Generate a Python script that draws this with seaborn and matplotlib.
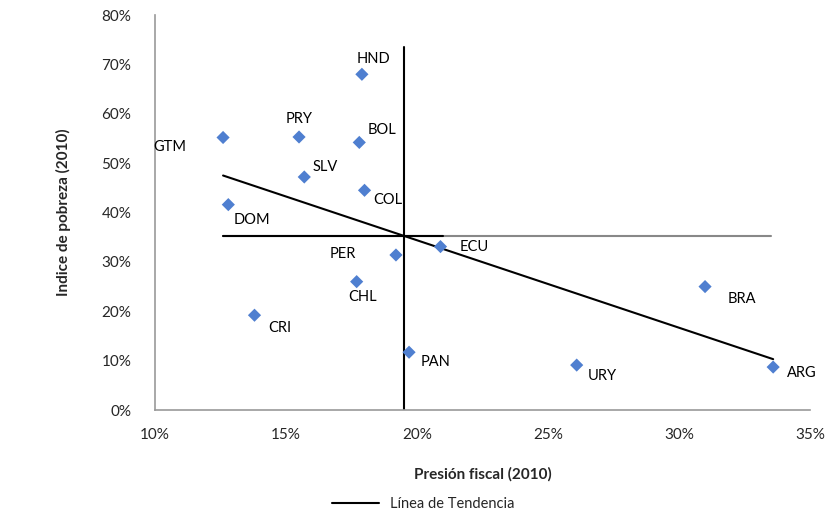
import numpy as np
import pandas as pd
import matplotlib
matplotlib.use("Agg")
import matplotlib.pyplot as plt
from matplotlib.lines import Line2D
from matplotlib.ticker import PercentFormatter
import seaborn as sns

# datos
paises = ["HND", "PRY", "BOL", "GTM", "SLV", "COL", "DOM", "ECU",
          "PER", "CHL", "CRI", "PAN", "URY", "BRA", "ARG"]
presion = [17.9, 15.5, 17.8, 12.6, 15.7, 18.0, 12.8, 20.9,
           19.2, 17.7, 13.8, 19.7, 26.1, 31.0, 33.6]
pobreza = [68.0, 55.3, 54.2, 55.2, 47.2, 44.5, 41.6, 33.1,
           31.4, 26.0, 19.2, 11.7, 9.1, 25.0, 8.7]

# línea de tendencia y cruces de medias
tend_x = [12.6, 33.6]
tend_y = [47.5, 10.3]
media_x = 19.5
media_y = 35.2

# desplazamiento de etiquetas (puntos)
offs = {"HND": (-4, 8), "PRY": (-10, 10), "BOL": (6, 6), "GTM": (-50, -10),
        "SLV": (6, 4), "COL": (6, -10), "DOM": (4, -14), "ECU": (14, -3),
        "PER": (-48, -2), "CHL": (-6, -14), "CRI": (10, -12), "PAN": (8, -10),
        "URY": (8, -11), "BRA": (16, -12), "ARG": (10, -7)}

df = pd.DataFrame({"pais": paises, "presion": presion, "pobreza": pobreza})

sns.set_style("white")
plt.rcParams["font.family"] = ["Lato", "DejaVu Sans"]

fig = plt.figure(figsize=(8.30, 5.19), dpi=100)
ax = fig.add_axes([0.1867, 0.210, 0.789, 0.761])

ax.plot([12.6, 33.5], [media_y, media_y], color="#888888", lw=1.5, zorder=1)
ax.plot([12.6, 21.0], [media_y, media_y], color="black", lw=1.5, zorder=2)
ax.plot([media_x, media_x], [0, 73.5], color="black", lw=1.5, zorder=2)
ax.plot(tend_x, tend_y, color="black", lw=1.5, zorder=3)

sns.scatterplot(data=df, x="presion", y="pobreza", marker="D", s=45,
                color="#4F7FD0", edgecolor="none", ax=ax, zorder=4,
                legend=False)

for p, xv, yv in zip(paises, presion, pobreza):
    ax.annotate(p, (xv, yv), xytext=offs[p], textcoords="offset points",
                fontsize=10.5, color="black")

ax.set_xlim(10, 35)
ax.set_ylim(0, 80)
ax.set_xticks(np.arange(10, 36, 5))
ax.set_yticks(np.arange(0, 81, 10))
ax.xaxis.set_major_formatter(PercentFormatter(decimals=0))
ax.yaxis.set_major_formatter(PercentFormatter(decimals=0))
ax.tick_params(axis="both", direction="out", length=5, width=1,
               color="#999999", labelsize=11, pad=8)
ax.tick_params(axis="y", pad=12)
for s in ["top", "right"]:
    ax.spines[s].set_visible(False)
for s in ["left", "bottom"]:
    ax.spines[s].set_color("#999999")
    ax.spines[s].set_linewidth(1.2)

ax.set_xlabel("Presión fiscal (2010)", fontsize=11, fontweight="bold",
              labelpad=18)
ax.set_ylabel("Indice de pobreza (2010)", fontsize=11, fontweight="bold",
              labelpad=22)

handle = [Line2D([0], [0], color="black", lw=1.5)]
fig.legend(handle, ["Línea de Tendencia"], loc="lower center",
           bbox_to_anchor=(0.51, -0.01), frameon=False, fontsize=10.5,
           handlelength=3.2)

fig.savefig("out.png", dpi=100)
